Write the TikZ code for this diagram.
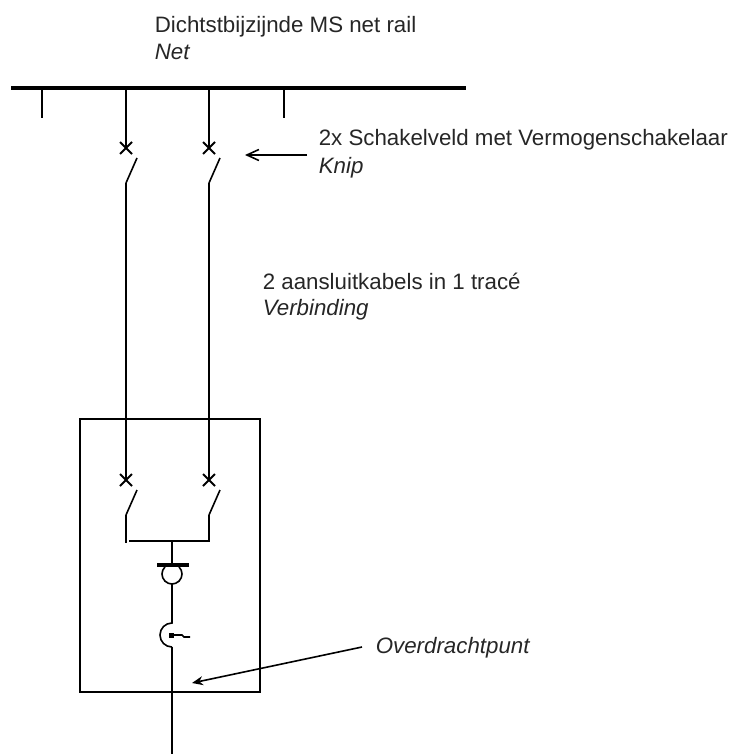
\documentclass[tikz,border=0pt]{standalone}
\usepackage{fontspec}
\setmainfont{Liberation Sans}
\usetikzlibrary{arrows.meta}
\tikzset{
  lbl/.style={anchor=base west, inner sep=0pt, text=black!85, font=\fontsize{22.3}{27}\selectfont},
  ilbl/.style={anchor=base west, inner sep=0pt, text=black!85, font=\fontsize{22.3}{27}\selectfont\itshape},
  wire/.style={line width=1.6pt},
  busbar/.style={line width=3.8pt},
  brk/.pic={
    \draw[line width=1.8pt] (-6,-6) -- (6,6) (-6,6) -- (6,-6);
    \draw[wire] (11,10) -- (0,35);
  }
}
\begin{document}
\begin{tikzpicture}[x=1pt,y=-1pt, wire]
\useasboundingbox (0,0) rectangle (738,754);
% texts
\node[lbl]  (t1) at (154,33) {Dichtstbijzijnde MS net rail};
\node[ilbl] (t1b) at (154,60) {Net};
\node[lbl]  (t2) at (318,146) {2x Schakelveld met Vermogenschakelaar};
\node[ilbl] (t2b) at (318,173) {Knip};
\node[lbl]  (t3) at (262,289) {2 aansluitkabels in 1 tracé};
\node[ilbl] (t3b) at (262,315) {Verbinding};
\node[ilbl] (t4) at (375,653) {Overdrachtpunt};
% busbar
\coordinate (bL) at (11,88);
\coordinate (bR) at (466,88);
\draw[busbar] (bL) -- (bR);
\coordinate (s1) at (42,88);  \coordinate (s1e) at (42,118);
\coordinate (s2) at (284,88); \coordinate (s2e) at (284,118);
\draw (s1) -- (s1e);
\draw (s2) -- (s2e);
% feeders
\coordinate (f1) at (126,88);  \coordinate (f2) at (209,88);
\coordinate (x1) at (126,148); \coordinate (x2) at (209,148);
\coordinate (y1) at (126,183); \coordinate (y2) at (209,183);
\coordinate (z1) at (126,480); \coordinate (z2) at (209,480);
\coordinate (w1) at (126,515); \coordinate (w2) at (209,515);
\draw (f1) -- (x1);
\draw (f2) -- (x2);
\pic at (x1) {brk};
\pic at (x2) {brk};
\draw (y1) -- (z1);
\draw (y2) -- (z2);
\pic at (z1) {brk};
\pic at (z2) {brk};
% box
\coordinate (boxA) at (80,419);
\coordinate (boxB) at (260,692);
\draw (boxA) rectangle (boxB);
% lower bar
\coordinate (h1) at (126,543);
\coordinate (h1s) at (129,541);
\coordinate (h2) at (209,541);
\coordinate (hc) at (172,541);
\draw (w1) -- (h1);
\draw (h1s) -- (h2) -- (w2);
% cable termination
\coordinate (tb) at (172,565);
\coordinate (tbL) at (157,565);
\coordinate (tbR) at (189,565);
\draw (hc) -- (tb);
\draw (179.07,566.93) arc[start angle=-45, end angle=225, radius=10];
\draw[busbar] (tbL) -- (tbR);
\coordinate (c0) at (172,584);
\coordinate (c1) at (172,623);
\coordinate (c2) at (172,647);
\coordinate (cend) at (172,754);
\draw (c0) -- (c1) arc[start angle=-90, end angle=-270, radius=12];
\draw (c2) -- (cend);
\fill (169,633) rectangle (173.5,637.5);
\draw (173,635) -- (182,635) -- (184,637) -- (190,637);
% arrows
\coordinate (a1s) at (307,155);
\coordinate (a1e) at (245,155);
\draw[-{Straight Barb[length=12pt,width=11pt]}] (a1s) -- (a1e);
\coordinate (a2s) at (362,647);
\coordinate (a2e) at (192,683);
\draw[-{Stealth[length=11pt,width=9pt]}] (a2s) -- (a2e);
\end{tikzpicture}
\end{document}
